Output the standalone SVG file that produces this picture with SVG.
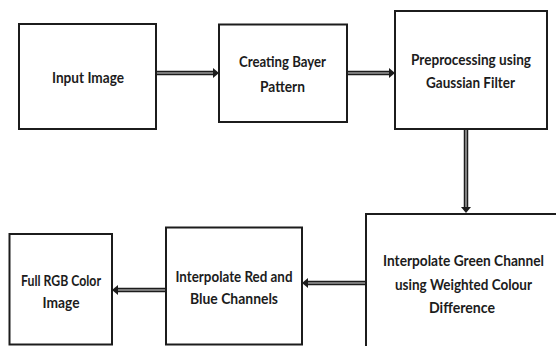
<svg xmlns="http://www.w3.org/2000/svg" width="556" height="346" viewBox="0 0 556 346">
<defs>
<style>
.box{fill:#fff;stroke:#1c1c1c;stroke-width:2}
.t{font-family:Lato,"Liberation Sans",Arial,sans-serif;font-weight:bold;font-size:14.5px;fill:#1c1c1c;text-anchor:middle}
.ao{stroke:#1c1c1c;stroke-width:4.5;fill:none}
.ai{stroke:#9a9a9a;stroke-width:1.6;fill:none}
.ah{fill:#1c1c1c}
</style>
</defs>
<rect width="556" height="346" fill="#fff"/>
<g id="connectors">
<line class="ao" x1="156" y1="73" x2="215" y2="73"/><line class="ai" x1="157" y1="73" x2="215" y2="73"/>
<path class="ah" d="M213,68 L219,73 L213,78 Z"/>
<line class="ao" x1="347" y1="73" x2="391" y2="73"/><line class="ai" x1="348" y1="73" x2="391" y2="73"/>
<path class="ah" d="M389,68 L395,73 L389,78 Z"/>
<line class="ao" x1="466" y1="129" x2="466" y2="209"/><line class="ai" x1="466" y1="130" x2="466" y2="209"/>
<path class="ah" d="M461,207 L466,213 L471,207 Z"/>
<line class="ao" x1="366" y1="283" x2="306" y2="283"/><line class="ai" x1="365" y1="283" x2="306" y2="283"/>
<path class="ah" d="M308,278 L302,283 L308,288 Z"/>
<line class="ao" x1="166" y1="290" x2="116" y2="290"/><line class="ai" x1="165" y1="290" x2="116" y2="290"/>
<path class="ah" d="M118,285 L112,290 L118,295 Z"/>
</g>
<g id="input">
<rect class="box" x="19" y="24" width="137" height="105"/>
<text class="t" x="88" y="83" textLength="72" lengthAdjust="spacingAndGlyphs">Input Image</text>
</g>
<g id="bayer">
<rect class="box" x="219" y="24.5" width="128" height="97.5"/>
<text class="t" x="282.5" y="67" textLength="87" lengthAdjust="spacingAndGlyphs">Creating Bayer</text>
<text class="t" x="282.5" y="92" textLength="45" lengthAdjust="spacingAndGlyphs">Pattern</text>
</g>
<g id="gaussian">
<rect class="box" x="395" y="11" width="152" height="118"/>
<text class="t" x="471" y="65" textLength="120" lengthAdjust="spacingAndGlyphs">Preprocessing using</text>
<text class="t" x="470.5" y="88" textLength="89" lengthAdjust="spacingAndGlyphs">Gaussian Filter</text>
</g>
<g id="green">
<rect class="box" x="366" y="214" width="200" height="140"/>
<text class="t" x="463.5" y="266" textLength="161" lengthAdjust="spacingAndGlyphs">Interpolate Green Channel</text>
<text class="t" x="463.5" y="290" textLength="137" lengthAdjust="spacingAndGlyphs">using Weighted Colour</text>
<text class="t" x="462" y="313" textLength="66" lengthAdjust="spacingAndGlyphs">Difference</text>
</g>
<g id="redblue">
<rect class="box" x="166" y="227.5" width="136" height="117"/>
<text class="t" x="234" y="282" textLength="117" lengthAdjust="spacingAndGlyphs">Interpolate Red and</text>
<text class="t" x="234" y="304" textLength="88" lengthAdjust="spacingAndGlyphs">Blue Channels</text>
</g>
<g id="fullrgb">
<rect class="box" x="9.5" y="234" width="102.5" height="110.5"/>
<text class="t" x="61" y="286" textLength="80" lengthAdjust="spacingAndGlyphs">Full RGB Color</text>
<text class="t" x="61" y="308" textLength="37" lengthAdjust="spacingAndGlyphs">Image</text>
</g>
</svg>
